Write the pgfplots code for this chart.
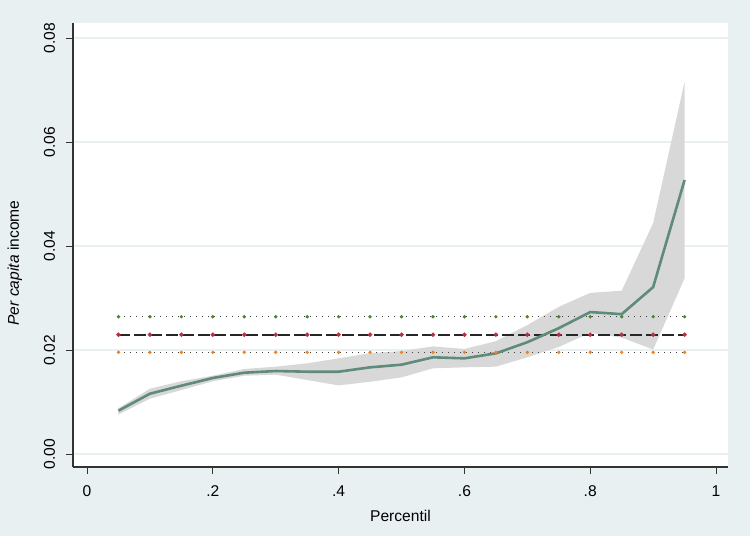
\documentclass[border=0pt]{standalone}
\usepackage{fontspec}
\setmainfont{Liberation Sans}
\usepackage{pgfplots}
\pgfplotsset{compat=1.18}
\definecolor{statabg}{RGB}{233,240,242}
\definecolor{gridc}{RGB}{232,240,242}
\definecolor{mainline}{RGB}{96,138,122}
\definecolor{cigray}{RGB}{216,216,216}
\definecolor{mkgreen}{RGB}{80,130,40}
\definecolor{mkorange}{RGB}{240,130,30}
\definecolor{mkred}{RGB}{180,50,70}

\pgfplotstableread{
p     est
0.05  0.00833
0.10  0.0116
0.15  0.01314
0.20  0.01462
0.25  0.01564
0.30  0.01596
0.35  0.01583
0.40  0.01583
0.45  0.01667
0.50  0.01718
0.55  0.0186
0.60  0.0184
0.65  0.01936
0.70  0.0215
0.75  0.0242
0.80  0.0273
0.85  0.0269
0.90  0.0321
0.95  0.0527
}\quant

% confidence band: upper bound left to right, then lower bound right to left
\pgfplotstableread{
p     v
0.05  0.0088
0.10  0.01256
0.15  0.0140
0.20  0.01506
0.25  0.01635
0.30  0.0168
0.35  0.01744
0.40  0.0184
0.45  0.0194
0.50  0.0198
0.55  0.0207
0.60  0.0202
0.65  0.0217
0.70  0.0248
0.75  0.0283
0.80  0.0310
0.85  0.0314
0.90  0.0444
0.95  0.0716
0.95  0.0338
0.90  0.0201
0.85  0.0224
0.80  0.0233
0.75  0.0206
0.70  0.0186
0.65  0.0168
0.60  0.01667
0.55  0.01648
0.50  0.01474
0.45  0.0139
0.40  0.0132
0.35  0.01423
0.30  0.01526
0.25  0.01506
0.20  0.0140
0.15  0.0123
0.10  0.01064
0.05  0.0076
}\band

\pgfplotstableread{
p     up      mid     dn
0.05  0.0264  0.02295 0.01956
0.10  0.0264  0.02295 0.01956
0.15  0.0264  0.02295 0.01956
0.20  0.0264  0.02295 0.01956
0.25  0.0264  0.02295 0.01956
0.30  0.0264  0.02295 0.01956
0.35  0.0264  0.02295 0.01956
0.40  0.0264  0.02295 0.01956
0.45  0.0264  0.02295 0.01956
0.50  0.0264  0.02295 0.01956
0.55  0.0264  0.02295 0.01956
0.60  0.0264  0.02295 0.01956
0.65  0.0264  0.02295 0.01956
0.70  0.0264  0.02295 0.01956
0.75  0.0264  0.02295 0.01956
0.80  0.0264  0.02295 0.01956
0.85  0.0264  0.02295 0.01956
0.90  0.0264  0.02295 0.01956
0.95  0.0264  0.02295 0.01956
}\ols

\begin{document}
\begin{tikzpicture}[font=\fontsize{7.8}{9}\selectfont]
% background of the whole graph region (1px = 0.5pt)
\fill[statabg] (-36.5pt,-34.5pt) rectangle (338.5pt,233.5pt);
\begin{axis}[
    at={(0,0)}, anchor=south west,
    scale only axis,
    width=327.5pt, height=222pt,
    xmin=-0.0223, xmax=1.019,
    ymin=-0.0025, ymax=0.0829,
    axis background/.style={fill=white},
    axis x line*=bottom, axis y line*=left,
    axis line style={draw=black!80, line width=0.6pt},
    xtick={0,0.2,0.4,0.6,0.8,1},
    xticklabels={0,.2,.4,.6,.8,1},
    ytick={0,0.02,0.04,0.06,0.08},
    yticklabel style={rotate=90, anchor=south, /pgf/number format/.cd, fixed, fixed zerofill, precision=2},
    /pgf/number format/assume math mode=true,
    scaled y ticks=false,
    tick align=outside,
    major tick length=3.5pt,
    tick style={draw=black!80, line width=0.5pt},
    ymajorgrids=true,
    grid style={gridc, line width=0.6pt},
    xlabel={Percentil},
    ylabel={\textit{Per capita} income},
    xticklabel style={yshift=-2.5pt},
    yticklabel shift=2pt,
    xlabel style={yshift=0.5pt},
    ylabel style={yshift=4pt, xshift=-9pt},
    clip=false,
]
\addplot[fill=cigray, draw=none] table[x=p, y=v] {\band} -- cycle;

\addplot[black!75, line width=0.6pt, dash pattern=on 0.5pt off 2.5pt,
    mark=*, mark size=0.5pt, mark options={solid, draw=mkgreen, fill=mkgreen}]
    table[x=p, y=up] {\ols};
\addplot[black!75, line width=0.6pt, dash pattern=on 0.5pt off 2.5pt,
    mark=*, mark size=0.5pt, mark options={solid, draw=mkorange, fill=mkorange}]
    table[x=p, y=dn] {\ols};
\addplot[black!85, line width=1pt, dash pattern=on 6pt off 2pt,
    mark=*, mark size=0.5pt, mark options={solid, draw=mkred, fill=mkred}]
    table[x=p, y=mid] {\ols};

\addplot[mainline, line width=1.3pt, mark=none] table[x=p, y=est] {\quant};
\end{axis}
\pgfresetboundingbox
\useasboundingbox (-36.5pt,-34.5pt) rectangle (338.5pt,233.5pt);
\end{tikzpicture}
\end{document}
